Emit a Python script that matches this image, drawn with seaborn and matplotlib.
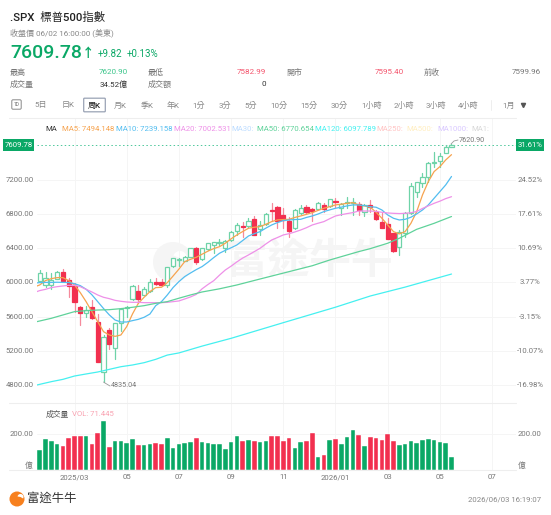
import numpy as np
import pandas as pd
import seaborn as sns
import matplotlib.pyplot as plt
from matplotlib.patches import Rectangle, FancyBboxPatch, Circle, Wedge

# weekly candles
opens = [6020,5970,5974,6044,6122,6028,5962,5709,5638,5716,5533,4952,5443,5229,5529,5696,5806,5903,5857,5900,6009,6005,5966,6192,
         6262,6255,6301,6407,6270,6391,6438,6460,6399,6496,6606,6656,6660,6738,6621,6684,6851,6886,6789,6715,6641,6808,6879,6863,
         6863,6906,6894,6949,6867,6933,6925,6918,6828,6902,6828,6703,6684,6574,6411,6574,6808,7062,7159,7230,7393,7421,7518,7588]
closes = [6114,6048,6028,6118,6020,5958,5775,5642,5673,5580,5073,5365,5280,5529,5693,5708,5962,5802,5919,6005,5982,5974,6176,6282,
          6270,6301,6399,6235,6399,6458,6469,6467,6489,6594,6668,6645,6723,6555,6672,6801,6840,6723,6730,6606,6847,6875,6828,6840,
          6933,6863,6972,6941,6918,6945,6941,6847,6910,6879,6738,6633,6508,6372,6594,6816,7132,7171,7237,7401,7413,7483,7588,7609.78]
highs = [6145,6126,6114,6137,6153,6048,5989,5724,5724,5794,5630,5385,5463,5529,5705,5724,5970,5970,5943,6036,6048,6044,6184,6290,
         6286,6310,6405,6415,6403,6465,6477,6504,6497,6600,6699,6703,6750,6777,6723,6809,6925,6894,6867,6762,6855,6906,6906,6867,
         6945,6925,6980,6984,6925,7003,6984,6945,6918,6964,6847,6816,6750,6582,6613,6828,7160,7179,7276,7413,7530,7510,7608,7620.9]
lows = [6001,5950,5927,6036,6013,5833,5658,5502,5592,5568,5073,4835.04,5217,5100,5436,5592,5794,5755,5849,5888,5966,5958,5950,6180,
        6192,6250,6295,6215,6262,6380,6348,6438,6360,6490,6555,6535,6652,6555,6555,6672,6723,6633,6633,6528,6630,6800,6800,6723,
        6855,6828,6885,6886,6789,6867,6789,6789,6777,6828,6730,6633,6508,6360,6321,6535,6800,7003,7120,7179,7347,7347,7510,7580]
volumes = [112,174,161,146,131,180,191,187,187,146,208,271,129,161,161,148,172,140,137,146,148,142,176,122,
           144,151,157,176,157,151,144,142,118,155,187,161,165,159,155,159,187,187,159,180,123,153,163,206,
           75,84,165,172,146,185,221,193,131,183,178,168,198,161,137,146,161,151,166,174,166,155,151,71.445]

ma5_idx = list(range(-1, 72))
ma5 = [5945,5970,6021,6044,6056,6056,6021,5970,5880,5775,5658,5541,5424,5385,5369,5385,5483,5631,5755,5826,5892,5939,5943,5997,6075,
       6155,6243,6270,6294,6330,6365,6395,6418,6458,6510,6555,6595,6633,6645,6653,6680,6711,6731,6735,6738,6760,6777,6796,6816,
       6842,6867,6886,6906,6915,6925,6933,6906,6895,6879,6820,6750,6672,6594,6567,6594,6691,6828,7023,7179,7296,7354,7432,7494]
ma10_idx = list(range(-1, 72))
ma10 = [5990,5998,6000,6000,6002,6000,5998,5985,5962,5920,5855,5775,5695,5620,5560,5537,5537,5553,5568,5592,5630,5728,5775,5853,5940,
        6009,6068,6110,6150,6185,6235,6290,6341,6375,6405,6438,6490,6543,6570,6594,6635,6672,6700,6723,6730,6735,6738,6760,6777,
        6800,6828,6848,6867,6880,6895,6906,6906,6898,6886,6879,6847,6789,6750,6730,6738,6762,6801,6847,6906,6984,7062,7140,7239]
ma20_idx = list(range(-1, 72))
ma20 = [5880,5904,5919,5939,5950,5958,5966,5966,5950,5919,5888,5853,5826,5810,5790,5779,5771,5767,5767,5763,5763,5763,5763,5767,5775,
        5783,5806,5830,5860,5925,5975,6020,6085,6145,6190,6240,6285,6321,6360,6399,6450,6496,6525,6555,6570,6590,6613,6640,6672,
        6692,6711,6745,6777,6792,6805,6816,6835,6835,6835,6830,6820,6812,6808,6805,6808,6815,6830,6865,6895,6925,6950,6980,7002.5]
ma50_idx = [-1,2,4,6,8,10,12,14,16,18,20,22,24,26,28,31,34,38,43,47,50,55,57,60,62,65,68,71]
ma50 = [5533,5580,5619,5658,5670,5677,5681,5693,5709,5728,5755,5775,5815,5853,5888,5925,5970,6040,6126,6195,6262,6360,6395,6458,6516,6621,6691,6770.65]
ma120_idx = [-1,2,4,6,8,10,12,14,16,18,20,22,24,28,33,42,51,57,63,71]
ma120 = [4792,4839,4866,4905,4929,4952,4983,5014,5034,5061,5100,5150,5175,5255,5346,5529,5710,5841,5945,6097.79]

ma_labels = ['MA', 'MA5: 7494.148', 'MA10: 7239.158', 'MA20: 7002.531', 'MA30:', 'MA50: 6770.654', 'MA120: 6097.789',
             'MA250:', 'MA500:', 'MA1000:', 'MA1:']
ma_label_x = [45, 62, 116, 174, 231, 257, 315, 376, 406, 437, 471]
ma_label_colors = ['#333333', '#f6a34f', '#52bdf0', '#ee90e8', '#bcdcff', '#5fd29a', '#45f0f0', '#ffc4c4', '#ffeec0', '#d9c8ff', '#d8d8d8']

price_ticks = [4800, 5200, 5600, 6000, 6400, 6800, 7200]
pct_ticks = [-16.98, -10.07, -3.15, 3.77, 10.69, 17.61, 24.52]
month_idx = [6, 15, 24, 33, 42, 51, 60, 69, 78]
month_labels = ['2025/03', '05', '07', '09', '11', '2026/01', '03', '05', '07']
tab_labels = ['5日', '日K', '周K', '月K', '季K', '年K', '1分', '3分', '5分', '10分', '15分', '30分', '1小時', '2小時', '3小時', '4小時', '1月']
tab_x = [41, 68, 94, 120, 147, 173, 199, 225, 251, 279, 309, 339, 372, 404, 436, 468, 509]

UP = '#0aa866'
DOWN = '#f2304f'
GRID = '#f5f5f5'
W, H = 551, 515


def px_axes(fig, left, top, right, bottom):
    return fig.add_axes([left / W, 1 - bottom / H, (right - left) / W, (bottom - top) / H])


def x_to_idx(px):
    return (px - 39.7) / 5.8


def y_to_price(py):
    return 4800 + (385 - py) / 0.0855


def price_to_y(p):
    return 385 - (p - 4800) * 0.0855


sns.set_theme(style='white')
plt.rcParams['font.family'] = ['Roboto', 'Noto Sans CJK TC', 'DejaVu Sans']

fig = plt.figure(figsize=(W / 100, H / 100), dpi=100, facecolor='white')

# overlay in pixel coordinates for the header and axis text
bg = fig.add_axes([0, 0, 1, 1], zorder=5)
bg.set_xlim(0, W)
bg.set_ylim(H, 0)
bg.axis('off')
bg.patch.set_alpha(0)


def put(x, y, s, size=5.8, color='#777777', ha='left', weight='normal'):
    bg.text(x, y, s, fontsize=size, color=color, ha=ha, va='center', fontweight=weight)


put(10, 17, '.SPX  標普500指數', 8.2, '#222222', weight='medium')
put(10, 33, '收盤價 06/02 16:00:00 (美東)', 5.8, '#888888')
put(10, 53, '7609.78', 14, UP, weight='medium')
put(88, 53, '↑', 9, UP, ha='center', weight='bold')
put(98, 54, '+9.82', 7, UP)
put(127, 54, '+0.13%', 7, UP)
put(10, 72, '最高')
put(128, 72, '7620.90', 5.8, '#3cc58b', ha='right')
put(148, 72, '最低')
put(266, 72, '7582.99', 5.8, '#f4546c', ha='right')
put(286, 72, '開市')
put(404, 72, '7595.40', 5.8, '#f4546c', ha='right')
put(424, 72, '前收')
put(541, 72, '7599.96', ha='right')
put(10, 84, '成交量')
put(128, 84, '34.52億', 5.8, '#333333', ha='right')
put(148, 84, '成交額')
put(266, 84, '0', 5.8, '#333333', ha='right')

bg.add_patch(FancyBboxPatch((13, 101), 7, 7, boxstyle='round,pad=1.2', fc='none', ec='#888888', lw=0.7))
bg.text(16.5, 104.5, '1D', fontsize=3.5, color='#666666', ha='center', va='center')
bg.add_patch(FancyBboxPatch((84.5, 99), 20, 12, boxstyle='round,pad=0.8', fc='white', ec='#9aa3b5', lw=0.9))
for lab, x in zip(tab_labels, tab_x):
    active = lab == '周K'
    bg.text(x, 105, lab, fontsize=5.8, color='#222222' if active else '#888888', ha='center', va='center',
            fontweight='medium' if active else 'normal')
bg.plot([523], [105], marker='v', ms=3, color='#555555')
bg.plot([491, 491], [100, 110], color='#eeeeee', lw=0.7)

for lab, x, c in zip(ma_labels, ma_label_x, ma_label_colors):
    put(x, 129, lab, 5.6, c)

# price panel
ax = px_axes(fig, 37, 118, 516, 403)
ax.set_xlim(x_to_idx(37), x_to_idx(516))
ax.set_ylim(y_to_price(403), y_to_price(118))

frame = pd.DataFrame({'idx': np.arange(len(closes)), 'open': opens, 'close': closes, 'high': highs, 'low': lows, 'vol': volumes})
frame['up'] = frame['close'] >= frame['open']

for p in price_ticks:
    ax.axhline(p, color=GRID, lw=0.7, zorder=0)
for m in month_idx:
    ax.axvline(m, color=GRID, lw=0.7, zorder=0)

# watermark sits behind the candles
ax.text(x_to_idx(309), y_to_price(262), '富途牛牛', fontsize=30, color='#f5f5f5', ha='center', va='center', zorder=1,
        fontweight='bold')
logo = fig.add_axes(bg.get_position(), zorder=-1)
logo.set_xlim(0, W)
logo.set_ylim(H, 0)
logo.axis('off')
logo.add_patch(Circle((173, 262), 20, fc='#f5f5f5', ec='none'))
logo.add_patch(Wedge((180, 258), 7, 200, 20, fc='white', ec='none'))
ax.patch.set_alpha(0)

for _, row in frame.iterrows():
    col = UP if row['up'] else DOWN
    wick = '#6fd3a8' if row['up'] else '#f58a9c'
    ax.plot([row['idx'], row['idx']], [row['low'], row['high']], color=wick, lw=0.9, zorder=3)
    lo, hi = sorted([row['open'], row['close']])
    ax.add_patch(Rectangle((row['idx'] - 0.36, lo), 0.72, max(hi - lo, 8), fc='white' if row['up'] else col,
                           ec='#6fd3a8' if row['up'] else col, lw=0.9, zorder=4))

for xs, ys, c in [(ma5_idx, ma5, '#f6a34f'), (ma10_idx, ma10, '#52bdf0'), (ma20_idx, ma20, '#ee90e8'),
                  (ma50_idx, ma50, '#5fd29a'), (ma120_idx, ma120, '#45f0f0')]:
    sns.lineplot(x=xs, y=ys, ax=ax, color=c, lw=0.9, zorder=5, errorbar=None, sort=False)

ax.axhline(closes[-1], color='#4cc79a', lw=0.7, ls=(0, (1.5, 2.5)), zorder=2)
for s in ax.spines.values():
    s.set_visible(False)
ax.set_xticks([])
ax.set_yticks([])
ax.set_xlabel('')
ax.set_ylabel('')

for p, pct in zip(price_ticks, pct_ticks):
    put(20, price_to_y(p), f'{p:.2f}', 5.6, ha='center')
    put(530, price_to_y(p), f'{pct:.2f}%', 5.6, ha='center')

bg.add_patch(Rectangle((3, 139), 31, 12, fc=UP, ec='none'))
put(18.5, 145, '7609.78', 5.6, 'white', ha='center')
bg.add_patch(Rectangle((516, 139), 28, 12, fc=UP, ec='none'))
put(530, 145, '31.61%', 5.6, 'white', ha='center')

bg.plot([9, 516], [118, 118], color='#eeeeee', lw=0.8)
bg.plot([9, 516], [403, 403], color='#eeeeee', lw=0.8)
bg.plot([451, 454, 458], [144, 141, 140], color='#999999', lw=0.6)
put(459, 140, '7620.90', 5.2)
bg.plot([103.5, 105, 110], [382, 383, 386], color='#999999', lw=0.6)
put(111, 385.5, '4835.04', 5.2)

# volume panel
vax = px_axes(fig, 37, 403, 516, 470)
vax.patch.set_alpha(0)
vax.set_ylim(0, (470 - 403) / 36 * 200)
for m in month_idx:
    vax.axvline(m, color=GRID, lw=0.7, zorder=0)
vax.axhline(200, color=GRID, lw=0.7, zorder=0)
frame['side'] = np.where(frame['up'], 'up', 'down')
sns.barplot(data=frame, x='idx', y='vol', hue='side', palette={'up': UP, 'down': DOWN}, native_scale=True,
            width=0.76, dodge=False, legend=False, ax=vax, zorder=3, edgecolor='#ffffff', linewidth=0.3, saturation=1)
vax.set_xlim(x_to_idx(37), x_to_idx(516))
for s in vax.spines.values():
    s.set_visible(False)
vax.set_xticks([])
vax.set_yticks([])
vax.set_xlabel('')
vax.set_ylabel('')

bg.plot([9, 516], [470, 470], color='#eeeeee', lw=0.8)
put(46, 414, '成交量', 5.6, '#555555')
put(72, 414, 'VOL: 71.445', 5.6, '#f9a3b2')
put(22, 433.5, '200.00', 5.6, ha='center')
put(530, 433.5, '200.00', 5.6, ha='center')
put(29, 465, '億', 5.6, ha='center')
put(522, 465, '億', 5.6, ha='center')

for m, lab in zip(month_idx, month_labels):
    put(39.7 + 5.8 * m, 477, lab, 5.6, ha='center')

# footer
bg.add_patch(Circle((17, 499), 7.5, fc='#f7801e', ec='none'))
bg.add_patch(Wedge((20.5, 497), 3, 190, 30, fc='white', ec='none'))
put(27, 498, '富途牛牛', 8.9, '#333333', weight='medium')
put(541, 499, '2026/06/03 16:19:07', 5.6, '#888888', ha='right')

fig.savefig('out.png', dpi=100)
